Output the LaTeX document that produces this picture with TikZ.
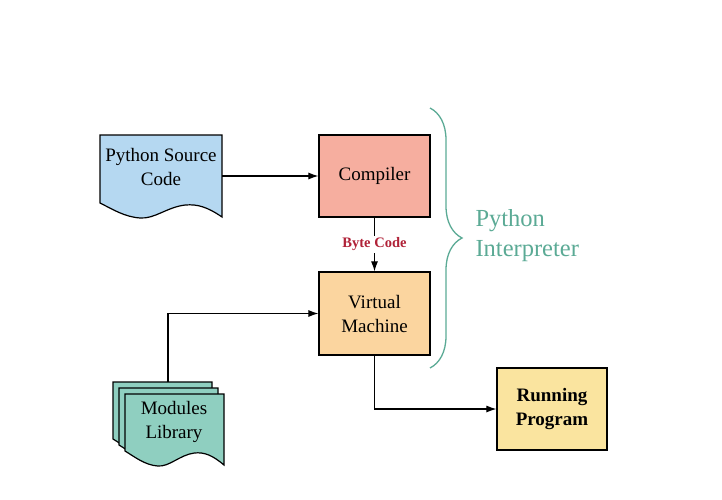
\documentclass[tikz,border=0pt]{standalone}
\usepackage{fontspec}
\setmainfont{Liberation Serif}
\usetikzlibrary{decorations.pathreplacing, arrows.meta}

\definecolor{srcblue}{HTML}{B5D8F1}
\definecolor{compred}{HTML}{F6AE9F}
\definecolor{vmorange}{HTML}{FBD59F}
\definecolor{runyellow}{HTML}{FAE49F}
\definecolor{modteal}{HTML}{8FCFC0}
\definecolor{interpteal}{HTML}{5BAA95}
\definecolor{bytered}{HTML}{B02238}

% document shape: top-left corner, width, height at right edge, fill
\newcommand{\docshape}[5]{%
  \begin{scope}[shift={(#1,#2)}]
    \draw[line width=1.2pt, fill=#5] (0,0) -- (#3,0) -- (#3,#4)
      .. controls ({0.88*#3},{#4-10}) and ({0.8*#3},{#4-13}) .. ({0.7*#3},{#4-12})
      .. controls ({0.55*#3},{#4-10}) and ({0.45*#3},{#4+2}) .. ({0.33*#3},{#4+1})
      .. controls ({0.2*#3},{#4}) and ({0.1*#3},{#4-8}) .. (0,{#4-14}) -- cycle;
  \end{scope}}

\begin{document}
\begin{tikzpicture}[
        x=1pt, y=-1pt,
        box/.style={rectangle, draw, line width=1.2pt, align=center, font=\fontsize{19}{24}\selectfont},
        doctext/.style={align=center, font=\fontsize{19}{24}\selectfont},
        arrow/.style={-{Latex[length=10pt, width=7pt]}, line width=1.1pt}
    ]
        \useasboundingbox (0,0) rectangle (722,500);

        % documents
        \docshape{100}{135}{122}{82}{srcblue}
        \docshape{113}{382}{99}{71}{modteal}
        \docshape{119}{388}{99}{71}{modteal}
        \docshape{125}{394}{99}{71}{modteal}

        \node[doctext, minimum width=122pt, inner sep=0pt] (source) at (161,167) {Python Source\\Code};
        \node[doctext] (modules) at (174,422) {Modules\\Library};
        \coordinate (modtop) at (168,382);

        \node[box, fill=compred, minimum width=111pt, minimum height=82pt] (compiler) at (374.5,176) {Compiler};
        \node[box, fill=vmorange, minimum width=111pt, minimum height=83pt] (vm) at (374.5,313.5) {Virtual\\Machine};
        \node[box, fill=runyellow, minimum width=110pt, minimum height=82pt, font=\fontsize{19}{24}\selectfont\bfseries] (running) at (552,409) {Running\\Program};

        \draw[arrow] (source.east |- compiler) -- (compiler);
        \draw[arrow] (compiler) -- node[fill=white, inner sep=2pt, text=bytered, font=\fontsize{14.5}{16}\selectfont\bfseries] (bytecode) {Byte Code} (vm);
        \draw[arrow] (modtop) |- (vm.west);
        \draw[arrow] (vm.south) |- (running.west);

        % interpreter brace
        \draw[interpteal, line width=1.3pt, decorate, decoration={brace, amplitude=32pt}] (430,108) -- (430,368);
        \node[anchor=west, align=left, text=interpteal, font=\fontsize{24.5}{30}\selectfont] (interp) at (472,236) {Python\\Interpreter};
    \end{tikzpicture}
\end{document}
